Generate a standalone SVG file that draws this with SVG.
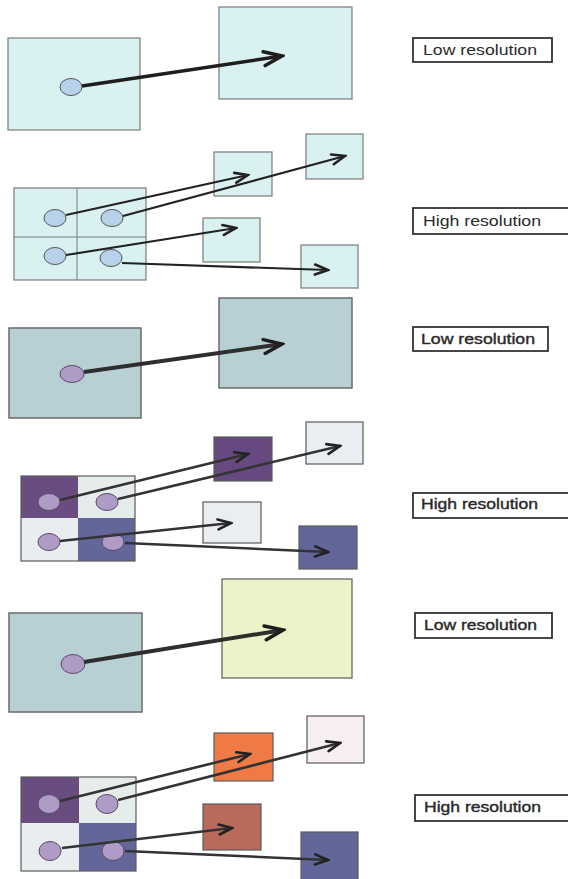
<svg xmlns="http://www.w3.org/2000/svg" width="568" height="879" viewBox="0 0 568 879">
<style>
.cy{fill:#d9f1f1;stroke:#7a7a7a;stroke-width:1.2}
.gr{fill:#b8cfd4;stroke:#6a6a6a;stroke-width:1.5}
.dot1{fill:#b7d2ea;stroke:#555;stroke-width:1}
.dot2{fill:#ae9cc6;stroke:#5a4a6a;stroke-width:1}
.ln{fill:none;stroke:#7a7a7a;stroke-width:1}
.lbl{fill:#fff;stroke:#333;stroke-width:1.8}
.t{font-family:"Liberation Sans",Arial,sans-serif;font-size:15px;fill:#2a2a2a}
.tb{font-family:"Liberation Sans",Arial,sans-serif;font-size:15px;fill:#2a2a2a;stroke:#2a2a2a;stroke-width:0.4}
.a1{fill:none;stroke:#1e1e1e;stroke-width:3.5;marker-end:url(#hb)}
.a2{fill:none;stroke:#222;stroke-width:2.2;marker-end:url(#hs)}
.a3{fill:none;stroke:#2e2e2e;stroke-width:4;marker-end:url(#hb)}
.a4{fill:none;stroke:#333;stroke-width:2.6;marker-end:url(#hs)}
.sq{stroke:#5a5a5a;stroke-width:1.2}
</style>
<defs>
<marker id="hb" markerUnits="userSpaceOnUse" markerWidth="24" markerHeight="18" viewBox="0 0 24 18" refX="21" refY="9" orient="auto">
<path d="M3,2 L21,9 L3,16" fill="none" stroke="#1e1e1e" stroke-width="3.5" stroke-linecap="round" stroke-linejoin="miter"/>
</marker>
<marker id="hs" markerUnits="userSpaceOnUse" markerWidth="18" markerHeight="14" viewBox="0 0 18 14" refX="16" refY="7" orient="auto">
<path d="M3,2 L16,7 L3,12" fill="none" stroke="#222" stroke-width="2.6" stroke-linecap="round"/>
</marker>
</defs>

<!-- Panel 1 -->
<g id="p1-src"><rect class="cy" x="8" y="38" width="132" height="92"/><ellipse class="dot1" cx="71" cy="87" rx="11" ry="8.5"/></g>
<g id="p1-dst"><rect class="cy" x="219" y="7" width="133" height="92"/></g>
<g id="p1-label"><rect class="lbl" x="413" y="38" width="139" height="24"/><text class="t" x="423" y="55" textLength="114" lengthAdjust="spacingAndGlyphs">Low resolution</text></g>

<!-- Panel 2 -->
<g id="p2-src">
<rect class="cy" x="14" y="188" width="132" height="92"/>
<line class="ln" x1="77" y1="188" x2="77" y2="280"/><line class="ln" x1="14" y1="237" x2="146" y2="237"/>
<ellipse class="dot1" cx="55" cy="218" rx="11" ry="8.5"/><ellipse class="dot1" cx="112" cy="218" rx="11" ry="8.5"/>
<ellipse class="dot1" cx="55" cy="256" rx="11" ry="8.5"/><ellipse class="dot1" cx="111" cy="258" rx="11" ry="8.5"/>
</g>
<g id="p2-a"><rect class="cy" x="214" y="152" width="58" height="44"/></g>
<g id="p2-b"><rect class="cy" x="306" y="134" width="57" height="45"/></g>
<g id="p2-c"><rect class="cy" x="203" y="218" width="57" height="44"/></g>
<g id="p2-d"><rect class="cy" x="301" y="245" width="57" height="43"/></g>
<g id="p2-label"><rect class="lbl" x="413" y="208" width="160" height="26"/><text class="t" x="423" y="226" textLength="118" lengthAdjust="spacingAndGlyphs">High resolution</text></g>

<!-- Panel 3 -->
<g id="p3-src"><rect class="gr" x="9" y="328" width="132" height="90"/><ellipse class="dot2" cx="72" cy="374" rx="12" ry="8.5"/></g>
<g id="p3-dst"><rect class="gr" x="219" y="298" width="133" height="90"/></g>
<g id="p3-label"><rect class="lbl" x="413" y="327" width="135" height="24"/><text class="tb" x="421" y="344" textLength="114" lengthAdjust="spacingAndGlyphs">Low resolution</text></g>

<!-- Panel 4 -->
<g id="p4-src">
<rect x="21" y="476" width="57" height="42" fill="#6a4d80"/>
<rect x="78" y="476" width="57" height="42" fill="#e6ecec"/>
<rect x="21" y="518" width="57" height="43" fill="#eaedf0"/>
<rect x="78" y="518" width="57" height="43" fill="#636699"/>
<rect x="21" y="476" width="114" height="85" fill="none" stroke="#5a5a5a" stroke-width="1.2"/>
<ellipse class="dot2" cx="49" cy="502" rx="11" ry="8.5"/><ellipse class="dot2" cx="107" cy="502" rx="11" ry="8.5"/>
<ellipse class="dot2" cx="49" cy="542" rx="11" ry="8.5"/><ellipse class="dot2" cx="113" cy="542" rx="11" ry="8.5"/>
</g>
<g id="p4-a"><rect class="sq" x="214" y="437" width="58" height="44" fill="#654980"/></g>
<g id="p4-b"><rect class="sq" x="306" y="422" width="57" height="42" fill="#eaedf2"/></g>
<g id="p4-c"><rect class="sq" x="203" y="502" width="58" height="41" fill="#eaedf2"/></g>
<g id="p4-d"><rect class="sq" x="299" y="526" width="58" height="43" fill="#636699"/></g>
<g id="p4-label"><rect class="lbl" x="413" y="493" width="160" height="25"/><text class="tb" x="421" y="509" textLength="117" lengthAdjust="spacingAndGlyphs">High resolution</text></g>

<!-- Panel 5 -->
<g id="p5-src"><rect class="gr" x="9" y="613" width="133" height="99"/><ellipse class="dot2" cx="73" cy="664" rx="12" ry="9.5"/></g>
<g id="p5-dst"><rect class="sq" x="222" y="579" width="130" height="99" fill="#edf3c8"/></g>
<g id="p5-label"><rect class="lbl" x="415" y="613" width="137" height="25"/><text class="tb" x="424" y="630" textLength="113" lengthAdjust="spacingAndGlyphs">Low resolution</text></g>

<!-- Panel 6 -->
<g id="p6-src">
<rect x="21" y="777" width="58" height="46" fill="#6a4d80"/>
<rect x="79" y="777" width="57" height="46" fill="#e6ecec"/>
<rect x="21" y="823" width="58" height="48" fill="#eaedf0"/>
<rect x="79" y="823" width="57" height="48" fill="#636699"/>
<rect x="21" y="777" width="115" height="94" fill="none" stroke="#5a5a5a" stroke-width="1.2"/>
<ellipse class="dot2" cx="49" cy="804" rx="11" ry="9.5"/><ellipse class="dot2" cx="107" cy="804" rx="11" ry="9.5"/>
<ellipse class="dot2" cx="50" cy="851" rx="11" ry="9.5"/><ellipse class="dot2" cx="113" cy="851" rx="11" ry="9.5"/>
</g>
<g id="p6-a"><rect class="sq" x="214" y="733" width="59" height="48" fill="#f07a45"/></g>
<g id="p6-b"><rect class="sq" x="307" y="716" width="57" height="47" fill="#f7eef1"/></g>
<g id="p6-c"><rect class="sq" x="203" y="804" width="58" height="46" fill="#b96a5a"/></g>
<g id="p6-d"><rect class="sq" x="301" y="832" width="57" height="50" fill="#636699"/></g>
<g id="p6-label"><rect class="lbl" x="415" y="795" width="160" height="26"/><text class="tb" x="424" y="812" textLength="117" lengthAdjust="spacingAndGlyphs">High resolution</text></g>

<g id="connectors">
<line class="a1" x1="82" y1="86" x2="282" y2="56"/>
<line class="a2" x1="66" y1="215" x2="248" y2="175"/>
<line class="a2" x1="123" y1="216" x2="345" y2="156"/>
<line class="a2" x1="66" y1="255" x2="236" y2="228"/>
<line class="a2" x1="122" y1="263" x2="328" y2="270"/>
<line class="a3" x1="84" y1="372" x2="282" y2="344"/>
<line class="a4" x1="60" y1="500" x2="248" y2="454"/>
<line class="a4" x1="118" y1="499" x2="340" y2="446"/>
<line class="a4" x1="60" y1="541" x2="231" y2="523"/>
<line class="a4" x1="125" y1="543" x2="328" y2="552"/>
<line class="a3" x1="84" y1="662" x2="283" y2="630"/>
<line class="a4" x1="60" y1="801" x2="250" y2="754"/>
<line class="a4" x1="118" y1="800" x2="340" y2="743"/>
<line class="a4" x1="62" y1="848" x2="232" y2="828"/>
<line class="a4" x1="125" y1="851" x2="328" y2="860"/>
</g>
</svg>
